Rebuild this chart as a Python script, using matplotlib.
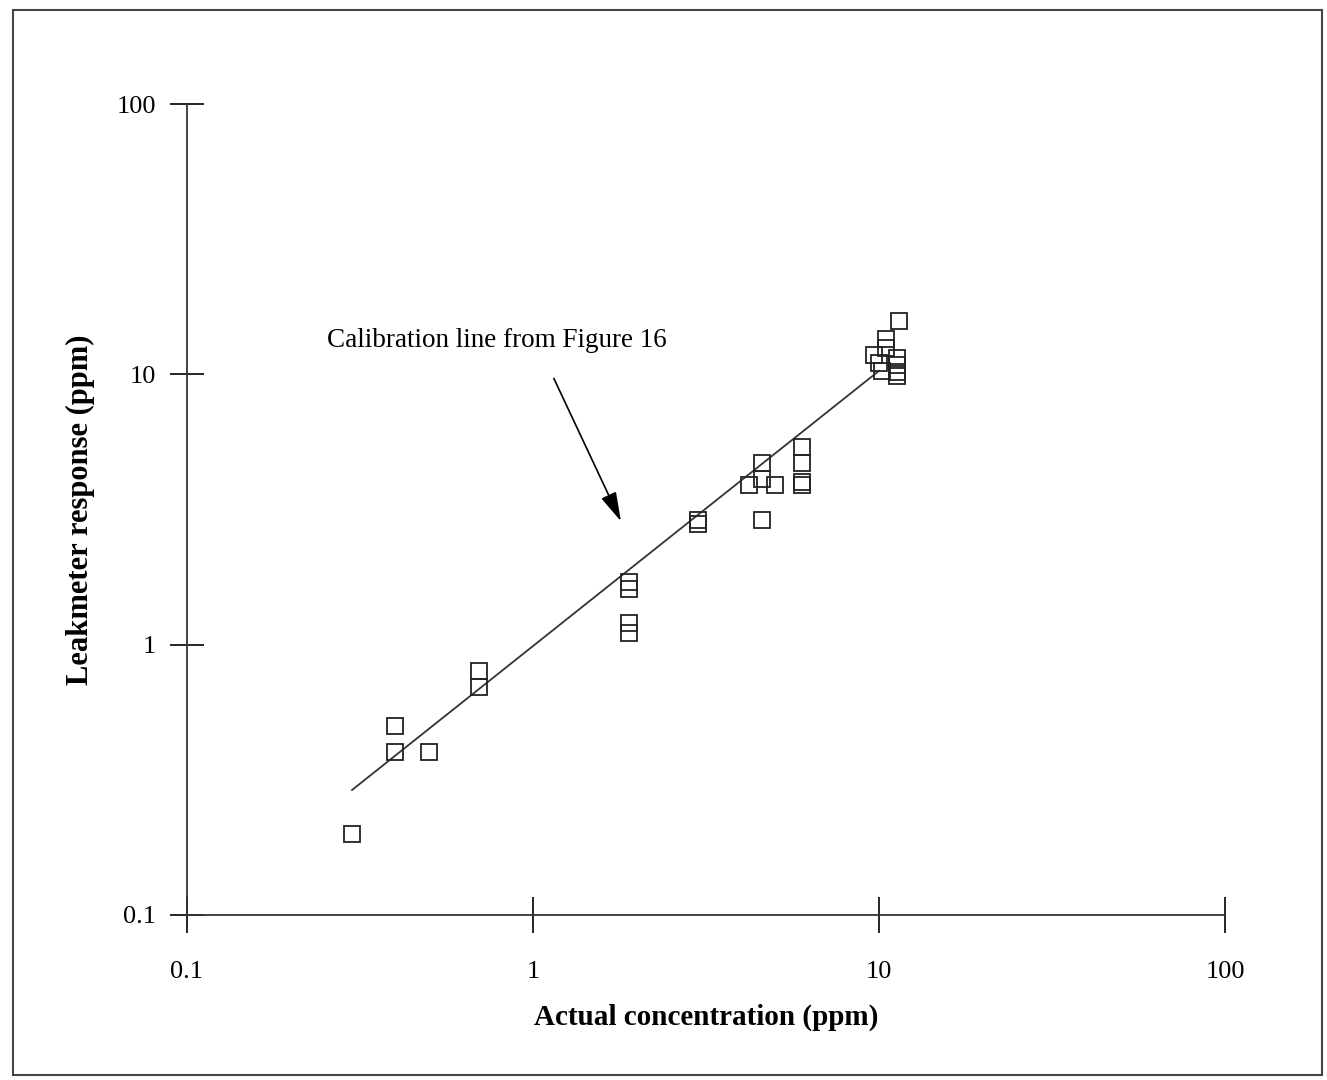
import matplotlib.pyplot as plt
from matplotlib.patches import Rectangle

plt.rcParams['font.family'] = ['Liberation Serif', 'DejaVu Serif']

# measured points (actual ppm, leakmeter ppm)
actual = [0.3, 0.4, 0.4, 0.5, 0.7, 0.7,
          1.9, 1.9, 1.9, 1.9, 3.0, 3.0,
          4.2, 4.6, 4.6, 4.6, 5.0, 6.0, 6.0, 6.0, 6.0,
          9.7, 10.0, 10.2, 10.5, 10.5, 11.3, 11.3, 11.3, 11.3, 11.4]
response = [0.2, 0.5, 0.4, 0.4, 0.8, 0.7,
            1.7, 1.6, 1.2, 1.1, 2.9, 2.8,
            3.9, 4.7, 4.1, 2.9, 3.9, 5.4, 4.7, 4.0, 3.9,
            11.8, 11.0, 10.3, 13.5, 12.5, 11.5, 10.8, 10.2, 9.9, 15.8]

# calibration line from Figure 16
cal_x = [0.3, 10]
cal_y = [0.29, 10.3]

ticks = [0.1, 1, 10, 100]
tick_labels = ["0.1", "1", "10", "100"]

fig = plt.figure(figsize=(13.27, 10.8), dpi=100)
ax = fig.add_axes([0.1409, 0.1528, 0.7822, 0.7509])

ax.plot(cal_x, cal_y, color="#333333", lw=1.3)
ax.plot(actual, response, linestyle="none", marker="s", ms=11,
        markerfacecolor="none", markeredgecolor="#222222", markeredgewidth=1.3)

ax.set_xscale("log")
ax.set_yscale("log")
ax.set_xlim(0.1, 100)
ax.set_ylim(0.1, 100)
ax.set_xticks(ticks)
ax.set_xticklabels(tick_labels)
ax.set_yticks(ticks)
ax.set_yticklabels(tick_labels)
ax.minorticks_off()
ax.tick_params(axis="x", direction="inout", length=26, width=1.2, pad=20, labelsize=19)
ax.tick_params(axis="y", direction="inout", length=24, width=1.2, pad=10, labelsize=19)

for s in ["top", "right"]:
    ax.spines[s].set_visible(False)
for s in ["left", "bottom"]:
    ax.spines[s].set_linewidth(1.3)
    ax.spines[s].set_color("#333333")

ax.set_xlabel("Actual concentration (ppm)", fontsize=21, fontweight="bold", labelpad=15)
ax.set_ylabel("Leakmeter response (ppm)", fontsize=22, fontweight="bold", labelpad=16)

ax.annotate("Calibration line from Figure 16", xy=(1.81, 2.8), xytext=(0.254, 13.3),
            fontsize=19.5, va="center", ha="left")
ax.annotate("", xy=(1.81, 2.8), xytext=(1.14, 9.87),
            arrowprops=dict(arrowstyle="-|>,head_length=1.8,head_width=0.5",
                            color="black", lw=1.2))

fig.patches.append(Rectangle((13 / 1327, 1 - 1075 / 1080), 1309 / 1327, 1065 / 1080,
                             transform=fig.transFigure, fill=False,
                             edgecolor="#444444", lw=1.5))

fig.savefig("out.png", dpi=100)
